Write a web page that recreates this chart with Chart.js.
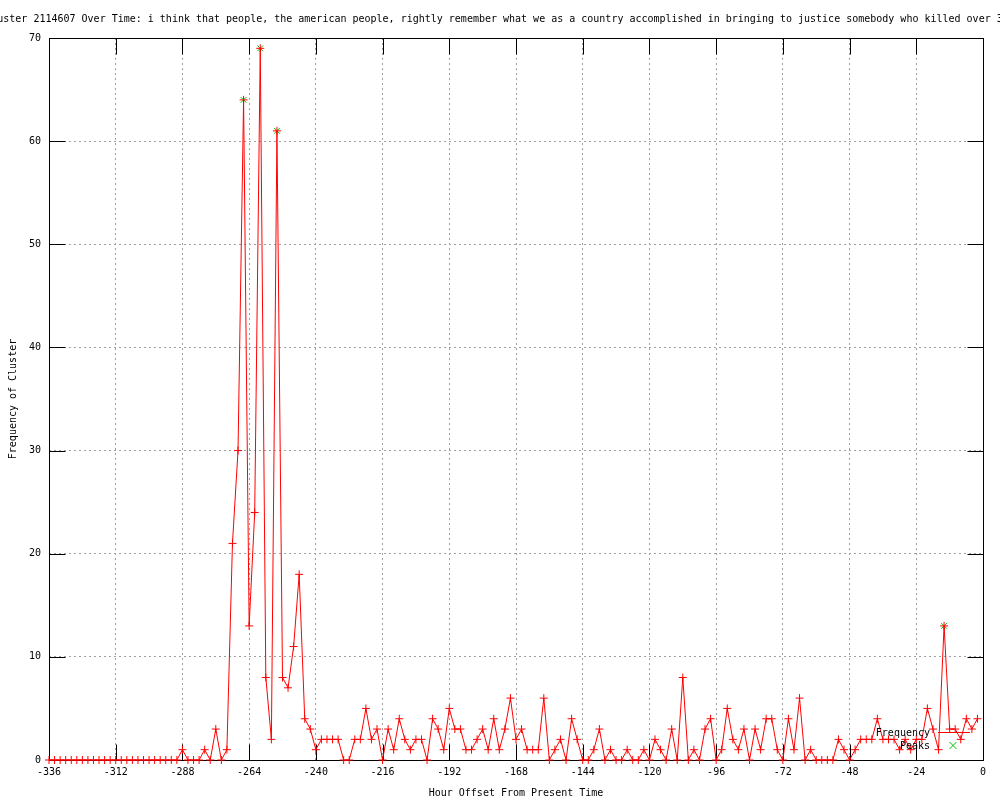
<!DOCTYPE html>
<html>
<head>
<meta charset="utf-8">
<title>Cluster 2114607 Over Time</title>
<script src="https://cdn.jsdelivr.net/npm/chart.js@4.4.0/dist/chart.umd.min.js"></script>
<style>
  html, body { margin: 0; padding: 0; background: #fff; }
  #wrap { width: 1000px; height: 800px; }
</style>
</head>
<body>
<div id="wrap"><canvas id="clusterChart" width="1000" height="800"></canvas></div>
<script>
const TITLE = 'uster 2114607 Over Time: i think that people, the american people, rightly remember what we as a country accomplished in bringing to justice somebody who killed over 3'
const X_TITLE = 'Hour Offset From Present Time'
const Y_TITLE = 'Frequency of Cluster'

// hour offsets of the samples (every 2 hours)
const HOURS = [
    -336, -334, -332, -330, -328, -326, -324, -322, -320, -318, -316, -314,
    -312, -310, -308, -306, -304, -302, -300, -298, -296, -294, -292, -290,
    -288, -286, -284, -282, -280, -278, -276, -274, -272, -270, -268, -266,
    -264, -262, -260, -258, -256, -254, -252, -250, -248, -246, -244, -242,
    -240, -238, -236, -234, -232, -230, -228, -226, -224, -222, -220, -218,
    -216, -214, -212, -210, -208, -206, -204, -202, -200, -198, -196, -194,
    -192, -190, -188, -186, -184, -182, -180, -178, -176, -174, -172, -170,
    -168, -166, -164, -162, -160, -158, -156, -154, -152, -150, -148, -146,
    -144, -142, -140, -138, -136, -134, -132, -130, -128, -126, -124, -122,
    -120, -118, -116, -114, -112, -110, -108, -106, -104, -102, -100, -98,
    -96, -94, -92, -90, -88, -86, -84, -82, -80, -78, -76, -74,
    -72, -70, -68, -66, -64, -62, -60, -58, -56, -54, -52, -50,
    -48, -46, -44, -42, -40, -38, -36, -34, -32, -30, -28, -26,
    -24, -22, -20, -18, -16, -14, -12, -10, -8, -6, -4, -2
]

const FREQUENCY = [
    0, 0, 0, 0, 0, 0, 0, 0, 0, 0, 0, 0,
    0, 0, 0, 0, 0, 0, 0, 0, 0, 0, 0, 0,
    1, 0, 0, 0, 1, 0, 3, 0, 1, 21, 30, 64,
    13, 24, 69, 8, 2, 61, 8, 7, 11, 18, 4, 3,
    1, 2, 2, 2, 2, 0, 0, 2, 2, 5, 2, 3,
    0, 3, 1, 4, 2, 1, 2, 2, 0, 4, 3, 1,
    5, 3, 3, 1, 1, 2, 3, 1, 4, 1, 3, 6,
    2, 3, 1, 1, 1, 6, 0, 1, 2, 0, 4, 2,
    0, 0, 1, 3, 0, 1, 0, 0, 1, 0, 0, 1,
    0, 2, 1, 0, 3, 0, 8, 0, 1, 0, 3, 4,
    0, 1, 5, 2, 1, 3, 0, 3, 1, 4, 4, 1,
    0, 4, 1, 6, 0, 1, 0, 0, 0, 0, 2, 1,
    0, 1, 2, 2, 2, 4, 2, 2, 2, 1, 2, 1,
    2, 2, 5, 3, 1, 13, 3, 3, 2, 4, 3, 4
]

const PEAK_HOURS = [-266, -260, -254, -14]
const PEAK_VALUES = [64, 69, 61, 13]

const MONO = '"DejaVu Sans Mono", "Liberation Mono", monospace'
const TICK_LEN = 16

// gnuplot style box with inward ticks on all four sides
const frameTicks = {
    id: 'frameTicks',
    beforeDatasetsDraw(chart) {
        const { ctx, chartArea: a, scales: { x, y } } = chart
        const L = Math.round(a.left) + 0.5, R = Math.round(a.right) + 0.5
        const T = Math.round(a.top) + 0.5, B = Math.round(a.bottom) + 0.5
        ctx.save()
        ctx.strokeStyle = '#000'
        ctx.lineWidth = 1
        ctx.beginPath()
        x.ticks.forEach(t => {
            const px = Math.round(x.getPixelForValue(t.value)) + 0.5
            ctx.moveTo(px, B); ctx.lineTo(px, B - TICK_LEN)
            ctx.moveTo(px, T); ctx.lineTo(px, T + TICK_LEN)
        })
        y.ticks.forEach(t => {
            const py = Math.round(y.getPixelForValue(t.value)) + 0.5
            ctx.moveTo(L, py); ctx.lineTo(L + TICK_LEN, py)
            ctx.moveTo(R, py); ctx.lineTo(R - TICK_LEN, py)
        })
        ctx.stroke()
        ctx.strokeRect(L, T, R - L, B - T)
        ctx.restore()
    }
}

const titleAndKey = {
    id: 'titleAndKey',
    afterDatasetsDraw(chart) {
        const { ctx, chartArea: a } = chart
        ctx.save()
        ctx.font = '10px ' + MONO
        ctx.fillStyle = '#000'
        ctx.textBaseline = 'middle'
        ctx.textAlign = 'center'
        ctx.fillText(TITLE, chart.width / 2, 19)

        // key in the lower right corner
        const ds = chart.data.datasets
        const textX = a.right - 53
        ctx.textAlign = 'right'
        ctx.fillText(ds[0].label, textX, a.bottom - 27)
        ctx.fillText(ds[1].label, textX, a.bottom - 14)

        ctx.strokeStyle = ds[0].borderColor
        ctx.lineWidth = 1
        ctx.beginPath()
        ctx.moveTo(textX + 8, a.bottom - 27.5)
        ctx.lineTo(textX + 40, a.bottom - 27.5)
        ctx.stroke()

        ctx.strokeStyle = ds[1].pointBorderColor
        const cx = textX + 23, cy = a.bottom - 14.5, r = 3.5
        ctx.beginPath()
        ctx.moveTo(cx - r, cy - r); ctx.lineTo(cx + r, cy + r)
        ctx.moveTo(cx - r, cy + r); ctx.lineTo(cx + r, cy - r)
        ctx.stroke()
        ctx.restore()
    }
}

const canvas = document.getElementById('clusterChart')

const clusterChart = new Chart(canvas, {
    type: 'line',
    data: {
        datasets: [
            {
                label: 'Frequency',
                data: HOURS.map((h, i) => ({ x: h, y: FREQUENCY[i] })),
                borderColor: '#ff0000',
                borderWidth: 1,
                tension: 0,
                pointStyle: 'cross',
                pointRadius: 4,
                pointBorderColor: '#ff0000',
                pointBorderWidth: 1,
                clip: false,
                order: 1
            },
            {
                label: 'Peaks',
                data: PEAK_HOURS.map((h, i) => ({ x: h, y: PEAK_VALUES[i] })),
                showLine: false,
                pointStyle: 'crossRot',
                pointRadius: 4,
                pointBorderColor: '#00c000',
                pointBorderWidth: 1,
                clip: false,
                order: 2
            }
        ]
    },
    options: {
        responsive: false,
        animation: false,
        layout: { padding: { left: 0, right: 17, top: 38, bottom: 0 } },
        plugins: {
            legend: { display: false },
            title: { display: false },
            tooltip: { enabled: false }
        },
        scales: {
            x: {
                type: 'linear',
                min: -336,
                max: 0,
                afterFit: s => { s.height = 40 },
                ticks: {
                    stepSize: 24,
                    color: '#000',
                    padding: 6,
                    maxRotation: 0,
                    font: { family: MONO, size: 10 }
                },
                grid: {
                    color: '#a0a0a0',
                    lineWidth: 1,
                    drawTicks: false
                },
                border: { display: false, dash: [2, 3] },
                title: {
                    display: true,
                    text: X_TITLE,
                    color: '#000',
                    padding: { top: 0, bottom: 1 },
                    font: { family: MONO, size: 10 }
                }
            },
            y: {
                type: 'linear',
                min: 0,
                max: 70,
                afterFit: s => { s.width = 49 },
                ticks: {
                    stepSize: 10,
                    color: '#000',
                    padding: 8,
                    font: { family: MONO, size: 10 }
                },
                grid: {
                    color: '#a0a0a0',
                    lineWidth: 1,
                    drawTicks: false
                },
                border: { display: false, dash: [2, 3] },
                title: {
                    display: true,
                    text: Y_TITLE,
                    color: '#000',
                    padding: { top: 7, bottom: 0 },
                    font: { family: MONO, size: 10 }
                }
            }
        }
    },
    plugins: [frameTicks, titleAndKey]
});
</script>
</body>
</html>
